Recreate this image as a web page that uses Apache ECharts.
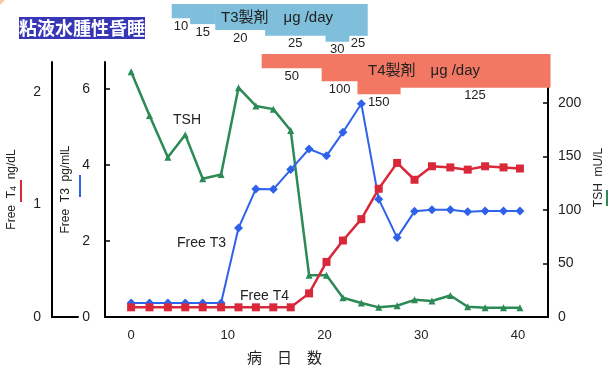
<!DOCTYPE html>
<html>
<head>
<meta charset="utf-8">
<script src="https://cdn.jsdelivr.net/npm/echarts@6/dist/echarts.min.js"></script>
<style>html,body{margin:0;padding:0;background:#fff;}#c{width:609px;height:371px;}</style>
</head>
<body>
<div id="c"></div>
<script>
// ---- data ----
const days   = [0, 1.9, 3.8, 5.6, 7.4, 9.3, 11.1, 12.9, 14.7, 16.5, 18.4, 20.2, 21.9, 23.8, 25.6, 27.5, 29.3, 31.1, 33.0, 34.8, 36.6, 38.5, 40.2];
const tsh    = [229, 188, 149, 170, 129, 133, 214, 197, 194, 174, 39, 39, 18, 13, 9, 10.5, 16, 15, 20, 9.5, 8.7, 8.7, 8.7];
const freeT3 = [0.37, 0.37, 0.37, 0.37, 0.37, 0.37, 2.34, 3.37, 3.36, 3.88, 4.42, 4.24, 4.86, 5.61, 3.10, 2.09, 2.78, 2.82, 2.82, 2.77, 2.79, 2.79, 2.79];
const freeT4 = [0.086, 0.086, 0.086, 0.086, 0.086, 0.086, 0.086, 0.086, 0.086, 0.086, 0.21, 0.49, 0.68, 0.87, 1.14, 1.37, 1.22, 1.34, 1.33, 1.31, 1.34, 1.33, 1.32];

const t3Start = [4.2, 6.1, 8.7, 13.85, 20.1, 22.5];
const t3End   = [6.1, 8.7, 13.85, 20.1, 22.5, 24.4];
const t3Dose  = [10, 15, 20, 25, 30, 25];

const t4Start = [13.5, 19.7, 23.4, 27.8];
const t4End   = [19.7, 23.4, 27.8, 43.3];
const t4Dose  = [50, 100, 150, 125];

const xTicks   = [0, 10, 20, 30, 40];
const t3Ticks  = [0, 2, 4, 6];
const t4Ticks  = [0, 1, 2];
const tshTicks = [0, 50, 100, 150, 200];

const FONT = "'Liberation Sans', Arial, 'Noto Sans CJK JP', sans-serif";
const TXT = '#222';

const chart = echarts.init(document.getElementById('c'), null, {renderer: 'canvas'});

function zip(a, b) { return a.map((v, i) => [v, b[i]]); }
function segs(s, e, d) { return s.map((v, i) => [v, e[i], d[i]]); }

function bannerRender(color) {
  return function (params, api) {
    const s = api.value(0), e = api.value(1), d = api.value(2);
    const p1 = api.coord([s, d]);
    const p2 = api.coord([e, d]);
    const top = params.coordSys.y;
    return {
      type: 'group',
      children: [
        {type: 'rect', shape: {x: p1[0], y: top, width: p2[0] - p1[0] + 0.6, height: p1[1] - top},
         style: {fill: color}},
        {type: 'text', style: {x: (p1[0] + p2[0]) / 2, y: p1[1] + 8, text: String(d),
          fill: TXT, font: '13px ' + FONT, align: 'center', verticalAlign: 'middle'}}
      ]
    };
  };
}

const xBase = {type: 'value', min: -2.7, max: 43.1};
const gridBase = {outerBoundsMode: 'none', containLabel: false};

const option = {
  backgroundColor: '#fff',
  animation: false,
  textStyle: {fontFamily: FONT},
  title: {
    text: '粘液水腫性昏睡', left: 19, top: 17,
    backgroundColor: '#3636b6', padding: [2, 0, 2, 0],
    textStyle: {color: '#fff', fontSize: 18, fontWeight: 'bold', fontFamily: "'Noto Sans CJK JP', sans-serif"}
  },
  grid: [
    Object.assign({left: 105, right: 61, top: 62, bottom: 54}, gridBase),
    Object.assign({left: 52, width: 26, top: 62, bottom: 54}, gridBase),
    Object.assign({left: 105, right: 61, top: 4, height: 40}, gridBase),
    Object.assign({left: 105, right: 61, top: 54, height: 43}, gridBase)
  ],
  xAxis: [
    Object.assign({}, xBase, {gridIndex: 0,
      axisLine: {onZero: false, lineStyle: {color: '#000', width: 2}},
      axisTick: {show: false}, splitLine: {show: false},
      axisLabel: {customValues: xTicks, color: TXT, fontSize: 13, margin: 12, fontFamily: FONT}}),
    {type: 'value', gridIndex: 1, min: 0, max: 1,
      axisLine: {onZero: false, lineStyle: {color: '#000', width: 2}}, axisTick: {show: false},
      axisLabel: {show: false}, splitLine: {show: false}},
    Object.assign({}, xBase, {gridIndex: 2, show: false}),
    Object.assign({}, xBase, {gridIndex: 3, show: false})
  ],
  yAxis: [
    {type: 'value', gridIndex: 0, position: 'left', min: 0, max: 6.71,
      axisLine: {show: true, onZero: false, lineStyle: {color: '#000', width: 2}},
      axisTick: {show: true, inside: true, length: 5, customValues: [2, 4, 6], lineStyle: {color: '#000', width: 1.5}},
      axisLabel: {customValues: t3Ticks, color: TXT, fontSize: 14, margin: 15, fontFamily: FONT},
      splitLine: {show: false},
      name: 'Free  T3  pg/mlL', nameLocation: 'middle', nameRotate: 90, nameGap: 27,
      nameTextStyle: {color: TXT, fontSize: 12, fontFamily: FONT}},
    {type: 'value', gridIndex: 0, min: 0, max: 2.267, show: false},
    {type: 'value', gridIndex: 0, position: 'right', min: 0, max: 238,
      axisLine: {show: true, onZero: false, lineStyle: {color: '#000', width: 2}},
      axisTick: {show: true, inside: true, length: 5, customValues: [50, 100, 150, 200], lineStyle: {color: '#000', width: 1.5}},
      axisLabel: {customValues: tshTicks, color: TXT, fontSize: 14, margin: 10, fontFamily: FONT},
      splitLine: {show: false},
      name: 'TSH  mU/L', nameLocation: 'middle', nameRotate: 90, nameGap: 45,
      nameTextStyle: {color: TXT, fontSize: 12, fontFamily: FONT, padding: [0, 0, 0, 24]}},
    {type: 'value', gridIndex: 1, position: 'left', min: 0, max: 2.267,
      axisLine: {show: true, onZero: false, lineStyle: {color: '#000', width: 2}},
      axisTick: {show: false},
      axisLabel: {customValues: t4Ticks, color: TXT, fontSize: 14, margin: 11, fontFamily: FONT},
      splitLine: {show: false},
      name: '{a|Free  T}{s|4}{a|  ng/dL}', nameLocation: 'middle', nameRotate: 90, nameGap: 34,
      nameTextStyle: {color: TXT, fontSize: 12, fontFamily: FONT,
        rich: {a: {fontSize: 12, color: TXT, fontFamily: FONT}, s: {fontSize: 9, color: TXT, fontFamily: FONT, verticalAlign: 'bottom'}}}},
    {type: 'value', gridIndex: 2, min: -2.2, max: 32, inverse: true, show: false},
    {type: 'value', gridIndex: 3, min: -5, max: 160.4, inverse: true, show: false}
  ],
  series: [
    {name: 'TSH', type: 'line', xAxisIndex: 0, yAxisIndex: 2, data: zip(days, tsh),
      symbol: 'triangle', symbolSize: 7, lineStyle: {color: '#2b8a55', width: 2.5},
      itemStyle: {color: '#2b8a55'}, z: 3},
    {name: 'Free T3', type: 'line', xAxisIndex: 0, yAxisIndex: 0, data: zip(days, freeT3),
      symbol: 'diamond', symbolSize: 9, lineStyle: {color: '#2e62ea', width: 2},
      itemStyle: {color: '#2e62ea'}, z: 3},
    {name: 'Free T4', type: 'line', xAxisIndex: 0, yAxisIndex: 1, data: zip(days, freeT4),
      symbol: 'rect', symbolSize: 8, lineStyle: {color: '#d8283a', width: 2.5},
      itemStyle: {color: '#d8283a'}, z: 3},
    {type: 'custom', xAxisIndex: 2, yAxisIndex: 4, data: segs(t3Start, t3End, t3Dose),
      renderItem: bannerRender('#7fbfdb'), z: 10, silent: true},
    {type: 'custom', xAxisIndex: 3, yAxisIndex: 5, data: segs(t4Start, t4End, t4Dose),
      renderItem: bannerRender('#f27863'), z: 10, silent: true}
  ],
  graphic: [
    {type: 'circle', shape: {cx: -40, cy: -40, r: 58}, style: {fill: 'none', stroke: '#f6c8a0', lineWidth: 4}, z: 1, silent: true},
    {type: 'line', shape: {x1: 21, y1: 180, x2: 21, y2: 202}, style: {stroke: '#d8283a', lineWidth: 2}},
    {type: 'line', shape: {x1: 80, y1: 175, x2: 80, y2: 197}, style: {stroke: '#2e62ea', lineWidth: 2}},
    {type: 'line', shape: {x1: 607, y1: 190, x2: 607, y2: 206}, style: {stroke: '#2b8a55', lineWidth: 2}},
    {type: 'text', left: 173, top: 113, z: 100, style: {text: 'TSH', fill: TXT, font: '14px ' + FONT}},
    {type: 'text', left: 177, top: 236, z: 100, style: {text: 'Free T3', fill: TXT, font: '14px ' + FONT}},
    {type: 'text', left: 240, top: 289, z: 100, style: {text: 'Free T4', fill: TXT, font: '14px ' + FONT}},
    {type: 'text', left: 221, top: 10, z: 100, style: {text: 'T3製剤　μg /day', fill: TXT, font: "15px 'Liberation Sans', 'Noto Sans CJK JP', sans-serif"}},
    {type: 'text', left: 368, top: 63, z: 100, style: {text: 'T4製剤　μg /day', fill: TXT, font: "15px 'Liberation Sans', 'Noto Sans CJK JP', sans-serif"}},
    {type: 'text', left: 247, top: 350, z: 100, style: {text: '病　日　数', fill: TXT, font: "15px 'Noto Sans CJK JP', sans-serif"}}
  ]
};
chart.setOption(option);
</script>
</body>
</html>
